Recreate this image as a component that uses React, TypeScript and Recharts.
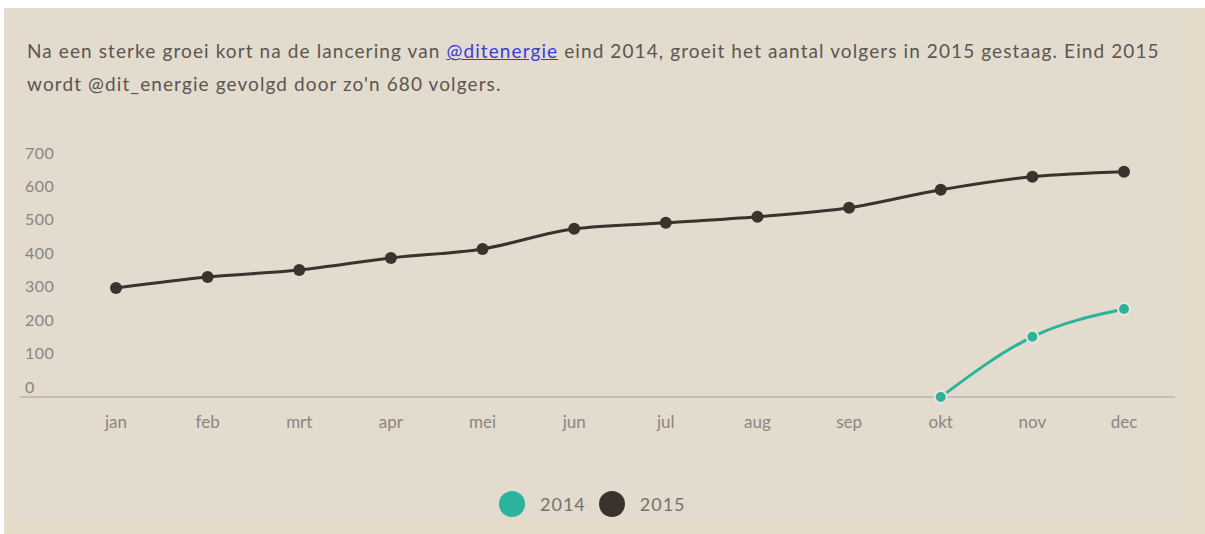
import React from "react";
import { LineChart, Line, XAxis, YAxis } from "recharts";

const months = ["jan", "feb", "mrt", "apr", "mei", "jun", "jul", "aug", "sep", "okt", "nov", "dec"];
const followers2014 = [null, null, null, null, null, null, null, null, null, 0, 180, 263];
const followers2015 = [326, 359, 380, 416, 443, 503, 521, 539, 566, 620, 659, 674];
const yTicks = [0, 100, 200, 300, 400, 500, 600, 700];

const seriesColors = { y2014: "#2bb39b", y2015: "#3a332d" };
const font = "Lato, 'Open Sans', sans-serif";

const data = months.map((m, i) => ({
  month: m,
  y2014: followers2014[i],
  y2015: followers2015[i],
}));

// y labels sit left-aligned at the chart edge, a bit above their value
const YTick = ({ y, payload }: any) => (
  <text x={25} y={y - 10} dy="0.35em" textAnchor="start" fill="#8b867e" fontSize={16} fontFamily={font} letterSpacing={0.5}>
    {payload.value}
  </text>
);

export default function App() {
  return (
    <div style={{ position: "absolute", left: 0, top: 0, width: 1205, height: 534, background: "#fff", overflow: "hidden" }}>
      <div style={{ position: "absolute", left: 4, top: 8, right: 0, bottom: 0, background: "#e6dac8" }} />
      <div style={{ position: "absolute", left: 4, top: 8, width: 1186, height: 512, background: "#e3dbce" }} />
      <div
        style={{
          position: "absolute",
          left: 27,
          top: 34,
          width: 1170,
          fontFamily: font,
          fontSize: 19,
          letterSpacing: 1.1,
          lineHeight: "33px",
          color: "#5b5650",
          whiteSpace: "nowrap",
        }}
      >
        Na een sterke groei kort na de lancering van{" "}
        <span style={{ color: "#3b3bd6", textDecoration: "underline" }}>@ditenergie</span> eind 2014, groeit het
        aantal volgers in 2015 gestaag. Eind 2015
        <br />
        wordt @dit_energie gevolgd door zo'n 680 volgers.
      </div>
      <div style={{ position: "absolute", left: 0, top: 0 }}>
        <LineChart width={1205} height={534} data={data} margin={{ top: 163, right: 30, left: 0, bottom: 107 }}>
          <XAxis
            dataKey="month"
            padding={{ left: 96, right: 51 }}
            axisLine={{ stroke: "#c6bdb0", strokeWidth: 2 }}
            tickLine={false}
            height={30}
            tickMargin={13}
            tick={{ fill: "#8b867e", fontSize: 17, fontFamily: font }}
          />
          <YAxis
            width={20}
            domain={[0, 700]}
            ticks={yTicks}
            axisLine={false}
            tickLine={false}
            tick={<YTick />}
          />
          <Line
            type="monotone"
            dataKey="y2015"
            stroke={seriesColors.y2015}
            strokeWidth={3}
            dot={{ r: 6, fill: seriesColors.y2015, stroke: "none" }}
            isAnimationActive={false}
          />
          <Line
            type="monotone"
            dataKey="y2014"
            stroke={seriesColors.y2014}
            strokeWidth={3}
            connectNulls={false}
            dot={{ r: 6, fill: seriesColors.y2014, stroke: "#ebe5da", strokeWidth: 2 }}
            isAnimationActive={false}
          />
        </LineChart>
      </div>
      <div
        style={{
          position: "absolute",
          top: 491,
          left: 499,
          display: "flex",
          alignItems: "center",
          fontFamily: font,
          fontSize: 18,
          letterSpacing: 1,
          color: "#777269",
        }}
      >
        {[
          { label: "2014", color: seriesColors.y2014 },
          { label: "2015", color: seriesColors.y2015 },
        ].map((item) => (
          <div key={item.label} style={{ display: "flex", alignItems: "center", marginRight: 13 }}>
            <span style={{ width: 26, height: 26, borderRadius: 13, background: item.color, marginRight: 15 }} />
            <span>{item.label}</span>
          </div>
        ))}
      </div>
    </div>
  );
}
